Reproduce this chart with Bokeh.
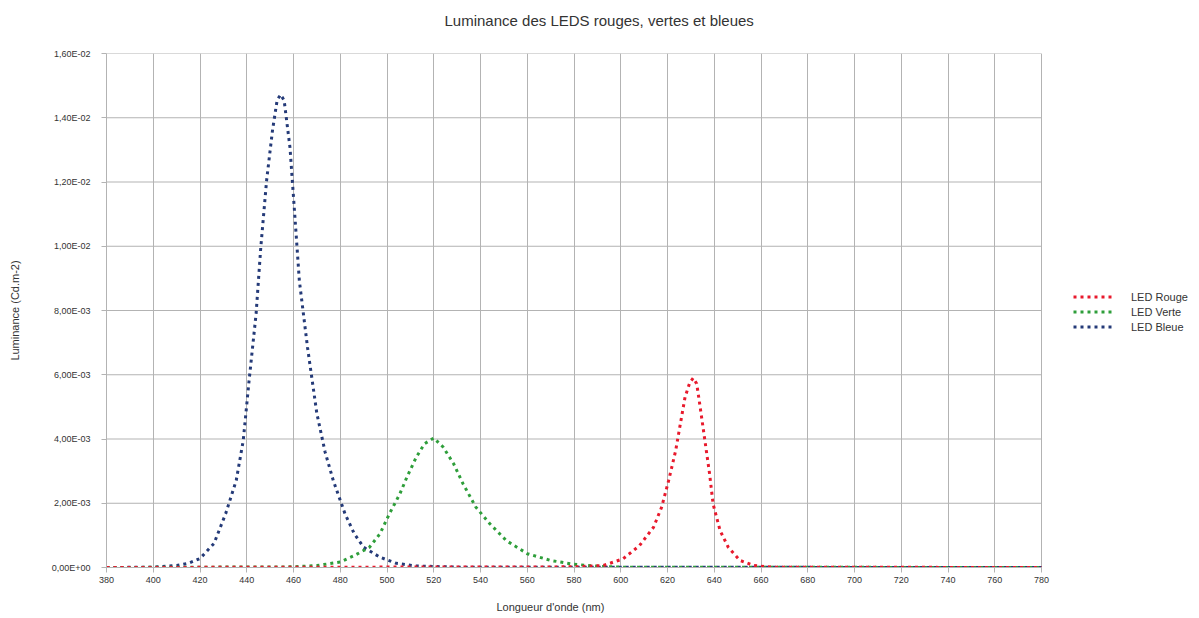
from bokeh.plotting import figure
from bokeh.models import Range1d, FixedTicker, Legend, LegendItem, Title
from bokeh.embed import file_html
from bokeh.resources import INLINE

# ---- data ----
x_ticks = [380, 400, 420, 440, 460, 480, 500, 520, 540, 560, 580, 600, 620, 640, 660, 680, 700, 720, 740, 760, 780]
y_ticks = [0.0, 0.002, 0.004, 0.006, 0.008, 0.010, 0.012, 0.014, 0.016]
y_tick_labels = ["0,00E+00", "2,00E-03", "4,00E-03", "6,00E-03", "8,00E-03",
                 "1,00E-02", "1,20E-02", "1,40E-02", "1,60E-02"]

bleue_nm = [380, 400, 410, 415, 420, 426, 431, 435.5, 438.5, 441, 444, 446, 448.5, 451, 453, 454.5,
            456, 458.5, 460.5, 462.5, 466, 470, 473.5, 477, 482, 486, 490, 497, 504, 512, 530, 780]
bleue_lum = [0.0, 0.00001, 0.00006, 0.00013, 0.00028, 0.00075, 0.00168, 0.00271, 0.00395, 0.00582,
             0.0079, 0.00996, 0.01205, 0.0136, 0.01455, 0.01472, 0.01454, 0.01307, 0.01102, 0.00893,
             0.00685, 0.00479, 0.0036, 0.00271, 0.00168, 0.00105, 0.00063, 0.00032, 0.00013,
             0.00005, 0.00001, 0.0]

verte_nm = [380, 460, 470, 480, 486, 492.5, 497, 501, 505.5, 508.5, 512.5, 516, 520, 524, 528.5,
            532.5, 538, 544, 551, 560, 570, 580, 590, 600, 780]
verte_lum = [0.0, 0.00002, 0.00006, 0.00017, 0.00037, 0.00063, 0.00105, 0.00167, 0.00229, 0.00281,
             0.00343, 0.00385, 0.00403, 0.00375, 0.00323, 0.00261, 0.00188, 0.00136, 0.00084,
             0.00043, 0.00022, 0.0001, 0.00004, 0.00001, 0.0]

rouge_nm = [380, 580, 592.5, 601, 608, 614, 617.5, 620.5, 623.5, 625.5, 627.5, 629.5, 631, 632.5,
            634, 636, 638, 639.5, 642.5, 646, 651, 657, 665, 780]
rouge_lum = [0.0, 0.00002, 0.00006, 0.00027, 0.00068, 0.00125, 0.00188, 0.00271, 0.00364, 0.00447,
             0.0053, 0.00575, 0.0059, 0.00572, 0.00498, 0.00395, 0.00292, 0.00198, 0.00115,
             0.00063, 0.00022, 0.00006, 0.00001, 0.0]

series_names = ["LED Rouge", "LED Verte", "LED Bleue"]
series_colors = ["#e8192c", "#2e9e3a", "#243a78"]

FONT = "Liberation Sans"
GRID = "#b3b3b3"
TXT = "#333333"

W, H = 1195, 614
LEFT, RIGHT, TOP, BOTTOM = 106, 0, 53, 47
PLOT_RIGHT = 1041  # pixel position of the last x tick (780)
x_span = (x_ticks[-1] - x_ticks[0]) * (W - LEFT - RIGHT) / (PLOT_RIGHT - LEFT)

p = figure(width=W, height=H, output_backend="svg", toolbar_location=None,
           x_range=Range1d(x_ticks[0], x_ticks[0] + x_span), y_range=Range1d(y_ticks[0], y_ticks[-1]),
           min_border_left=LEFT, min_border_right=RIGHT, min_border_top=TOP, min_border_bottom=BOTTOM)
p.title = None

# title (a blank spacer panel sits between the frame and the title)
p.add_layout(Title(text=" ", text_font=FONT, text_font_size="15px", standoff=6), "above")
p.add_layout(Title(text="Luminance des LEDS rouges, vertes et bleues", align="left", vertical_align="bottom",
                   offset=338, text_font=FONT, text_font_size="15px", text_font_style="normal",
                   text_color=TXT, standoff=0), "above")

p.background_fill_color = "white"
p.border_fill_color = "white"
p.outline_line_color = None

p.xaxis.ticker = FixedTicker(ticks=x_ticks)
p.yaxis.ticker = FixedTicker(ticks=y_ticks)
p.xaxis.bounds = (x_ticks[0], x_ticks[-1])
p.yaxis.major_label_overrides = {v: s for v, s in zip(y_ticks, y_tick_labels)}
for ax in (p.xaxis, p.yaxis):
    ax.axis_line_color = GRID
    ax.major_tick_line_color = GRID
    ax.major_tick_out = 5
    ax.major_tick_in = 0
    ax.minor_tick_line_color = None
    ax.major_label_text_font = FONT
    ax.major_label_text_font_size = "9px"
    ax.major_label_text_color = TXT
    ax.axis_label_text_font = FONT
    ax.axis_label_text_font_size = "11px"
    ax.axis_label_text_font_style = "normal"
    ax.axis_label_text_color = TXT
p.yaxis.axis_label = "Luminance (Cd.m-2)"
p.xaxis.major_label_standoff = 4
p.yaxis.major_label_standoff = 11
p.yaxis.axis_label_standoff = 28

# x-axis title below the axis (spacer panel, then the text)
p.add_layout(Title(text=" ", text_font=FONT, text_font_size="11px", standoff=1), "below")
p.add_layout(Title(text="Longueur d'onde (nm)", align="left", vertical_align="top", offset=390,
                   text_font=FONT, text_font_size="11px", text_font_style="normal",
                   text_color=TXT, standoff=0), "below")

p.xgrid.grid_line_color = GRID
p.xgrid.grid_line_width = 1
p.ygrid.visible = False
# horizontal grid lines limited to the x extent of the axis
p.segment(x0=[x_ticks[0]] * len(y_ticks), x1=[x_ticks[-1]] * len(y_ticks), y0=y_ticks, y1=y_ticks,
          line_color=GRID, line_width=1, level="underlay")

data = {"LED Rouge": (rouge_nm, rouge_lum), "LED Verte": (verte_nm, verte_lum), "LED Bleue": (bleue_nm, bleue_lum)}
renderers = {}
for name, color in reversed(list(zip(series_names, series_colors))):
    xs, ys = data[name]
    renderers[name] = p.line(xs, ys, line_color=color, line_width=3, line_dash="3 4", line_cap="butt")

legend = Legend(items=[LegendItem(label=n, renderers=[renderers[n]]) for n in series_names],
                location=(967, 234), orientation="vertical",
                label_text_font=FONT, label_text_font_size="11px", label_text_color=TXT,
                glyph_width=40, glyph_height=13, label_height=13, spacing=2, padding=2, margin=0,
                label_standoff=18, border_line_color=None, background_fill_alpha=0)
p.add_layout(legend, "center")

open("out.html", "w").write(file_html(p, INLINE))
